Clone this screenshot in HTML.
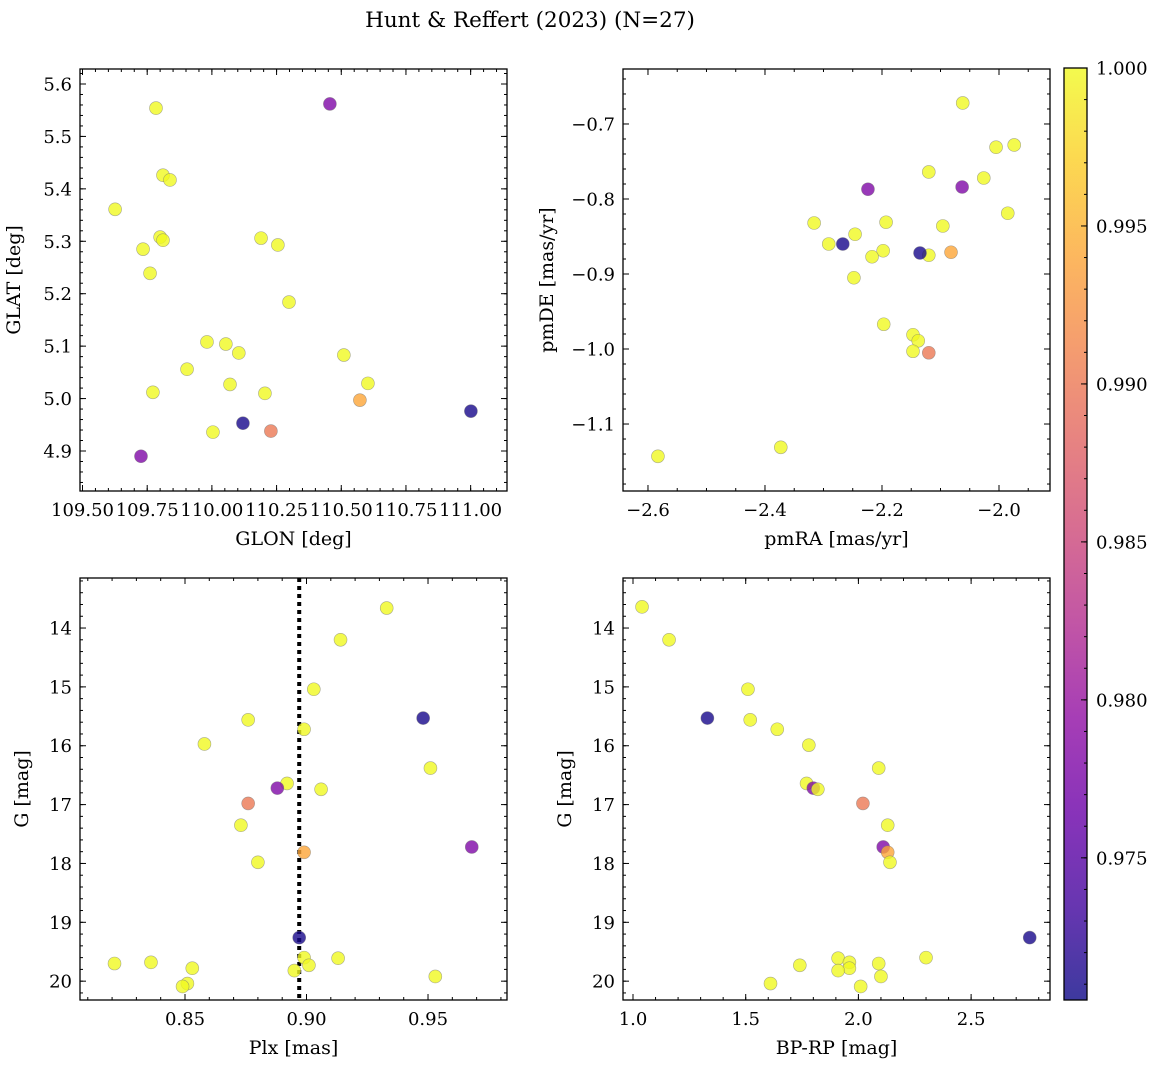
<!DOCTYPE html>
<html><head><meta charset="utf-8">
<style>
html,body{margin:0;padding:0;background:#fff;}
svg{display:block;font-family:"DejaVu Serif","Liberation Serif",serif;}
</style></head>
<body>
<svg id="fig" width="1161" height="1068" viewBox="0 0 1161 1068" xmlns="http://www.w3.org/2000/svg">
<text x="530" y="27" font-size="21.5" text-anchor="middle">Hunt &amp; Reffert (2023) (N=27)</text>
</svg>
<script>
// Panel 1: GLON vs GLAT
const p1X = [109.784,110.456,109.811,109.838,109.626,109.800,109.811,109.734,109.761,110.190,110.255,110.298,109.981,110.054,110.104,110.510,109.904,110.603,110.070,109.772,110.205,110.572,111.001,110.120,110.004,110.228,109.726];
const p1Y = [5.554,5.562,5.426,5.417,5.361,5.308,5.302,5.285,5.239,5.306,5.293,5.184,5.108,5.104,5.087,5.083,5.056,5.029,5.027,5.012,5.010,4.997,4.976,4.953,4.936,4.938,4.890];
const p1P = [1,0.978,1,1,1,1,1,1,1,1,1,1,1,1,1,1,1,1,1,1,1,0.994,0.971,0.971,1,0.990,0.978];
// Panel 2: pmRA vs pmDE
const p2X = [-2.062,-2.005,-1.974,-2.120,-2.026,-2.063,-2.224,-1.985,-2.316,-2.193,-2.096,-2.246,-2.291,-2.267,-2.198,-2.217,-2.120,-2.135,-2.082,-2.248,-2.197,-2.147,-2.138,-2.147,-2.120,-2.373,-2.583];
const p2Y = [-0.672,-0.731,-0.728,-0.764,-0.772,-0.784,-0.787,-0.819,-0.832,-0.831,-0.836,-0.847,-0.860,-0.860,-0.869,-0.877,-0.875,-0.872,-0.871,-0.905,-0.967,-0.981,-0.989,-1.003,-1.005,-1.131,-1.143];
const p2P = [1,1,1,1,1,0.978,0.978,1,1,1,1,1,1,0.971,1,1,1,0.971,0.994,1,1,1,1,1,0.990,1,1];
// Panel 3: Plx vs G
const p3X = [0.933,0.914,0.903,0.948,0.876,0.899,0.858,0.951,0.892,0.888,0.906,0.876,0.873,0.968,0.899,0.880,0.897,0.899,0.913,0.821,0.836,0.901,0.853,0.895,0.953,0.851,0.849];
const p3Y = [13.66,14.20,15.04,15.53,15.56,15.72,15.97,16.38,16.64,16.72,16.74,16.98,17.35,17.72,17.81,17.98,19.26,19.60,19.61,19.70,19.68,19.73,19.78,19.82,19.92,20.04,20.09];
const p3P = [1,1,1,0.971,1,1,1,1,1,0.978,1,0.990,1,0.978,0.994,1,0.971,1,1,1,1,1,1,1,1,1,1];
const plxMedian = 0.897;
// Panel 4: BP-RP vs G
const p4X = [1.04,1.16,1.51,1.33,1.52,1.64,1.78,2.09,1.77,1.80,1.82,2.02,2.13,2.11,2.13,2.14,2.76,2.30,1.91,1.96,2.09,1.74,1.96,1.91,2.10,1.61,2.01];
const p4Y = [13.64,14.20,15.04,15.53,15.56,15.72,15.99,16.38,16.64,16.72,16.74,16.98,17.35,17.72,17.81,17.98,19.26,19.60,19.61,19.68,19.70,19.73,19.78,19.82,19.92,20.04,20.09];
const p4P = [1,1,1,0.971,1,1,1,1,1,0.978,1,0.990,1,0.978,0.994,1,0.971,1,1,1,1,1,1,1,1,1,1];
// Colorbar
const cbTicks = [0.975,0.980,0.985,0.990,0.995,1.000];
const cbMin = 0.9705, cbMax = 1.0;

const NS = "http://www.w3.org/2000/svg";
const svg = document.getElementById('fig');
const TF = 18, LF = 19;
const stops = [[13,8,135],[65,4,157],[106,0,168],[143,13,164],[177,42,144],[204,71,120],[225,100,98],[242,132,75],[252,166,54],[252,206,37],[240,249,33]];
function plasma(t){t=Math.max(0,Math.min(1,t));const f=t*10,i=Math.min(9,Math.floor(f)),r=f-i;const a=stops[i],b=stops[i+1];
 return `rgb(${Math.round(a[0]+(b[0]-a[0])*r)},${Math.round(a[1]+(b[1]-a[1])*r)},${Math.round(a[2]+(b[2]-a[2])*r)})`;}
function mk(tag,attrs,parent){const e=document.createElementNS(NS,tag);for(const k in attrs)e.setAttribute(k,attrs[k]);(parent||svg).appendChild(e);return e;}

function panel(cfg){
 const {name,x0,y0,x1,y1,xmin,xmax,ymin,ymax,invY,xs,ys,ps,xt,xtl,xminor,yt,ytl,yminor,xlabel,ylabel} = cfg;
 const g=mk('g',{});
 
 
 const sx=v=>x0+(v-xmin)/(xmax-xmin)*(x1-x0);
 const sy=v=>invY? y0+(v-ymin)/(ymax-ymin)*(y1-y0) : y1-(v-ymin)/(ymax-ymin)*(y1-y0);
 const tg=mk('g',{stroke:'#000','stroke-width':1},g);
 xminor.forEach(v=>{const x=sx(v);if(x<x0||x>x1)return;mk('line',{x1:x,x2:x,y1:y1,y2:y1-3},tg);mk('line',{x1:x,x2:x,y1:y0,y2:y0+3},tg);});
 yminor.forEach(v=>{const y=sy(v);if(y<y0||y>y1)return;mk('line',{x1:x0,x2:x0+3,y1:y,y2:y},tg);mk('line',{x1:x1,x2:x1-3,y1:y,y2:y},tg);});
 xt.forEach((v,i)=>{const x=sx(v);mk('line',{x1:x,x2:x,y1:y1,y2:y1-6},tg);mk('line',{x1:x,x2:x,y1:y0,y2:y0+6},tg);
   const t=mk('text',{x:x,y:y1+25,'font-size':TF,'text-anchor':'middle',stroke:'none'},g);t.textContent=xtl[i];
   
   });
 yt.forEach((v,i)=>{const y=sy(v);mk('line',{x1:x0,x2:x0+6,y1:y,y2:y},tg);mk('line',{x1:x1,x2:x1-6,y1:y,y2:y},tg);
   const t=mk('text',{x:x0-8,y:y+6.5,'font-size':TF,'text-anchor':'end',stroke:'none'},g);t.textContent=ytl[i];
   
   });
 if(cfg.vline!==undefined){const x=sx(cfg.vline);const l=mk('line',{x1:x,x2:x,y1:y0,y2:y1,stroke:'#000','stroke-width':4,'stroke-dasharray':'4,4'},g);
   
   }
 xs.forEach((v,i)=>{const c=mk('circle',{cx:sx(v),cy:sy(ys[i]),r:6.5,fill:plasma((ps[i]-cbMin)/(cbMax-cbMin)),'fill-opacity':0.8,stroke:'#777','stroke-opacity':0.6,'stroke-width':0.6},g);
   
   });
 mk('rect',{x:x0,y:y0,width:x1-x0,height:y1-y0,fill:'none',stroke:'#000','stroke-width':1.3},g);
 const xl=mk('text',{x:(x0+x1)/2,y:y1+54,'font-size':LF,'text-anchor':'middle'},g);xl.textContent=xlabel;
 
 
 const yx=x0-cfg.ylo, yy=(y0+y1)/2;
 const yl=mk('text',{x:yx,y:yy,'font-size':LF,'text-anchor':'middle',transform:`rotate(-90 ${yx} ${yy})`},g);yl.textContent=ylabel;
 
 
}
function rng(a,b,s){const r=[];for(let v=a;v<=b+1e-9;v+=s)r.push(+v.toFixed(6));return r;}

panel({name:'glon-glat-panel',x0:80,y0:69,x1:507,y1:491,xmin:109.4903,xmax:111.1405,ymin:4.8237,ymax:5.6286,xs:p1X,ys:p1Y,ps:p1P,
 xt:[109.5,109.75,110,110.25,110.5,110.75,111],xtl:['109.50','109.75','110.00','110.25','110.50','110.75','111.00'],xminor:rng(109.45,111.15,0.05),
 yt:[4.9,5.0,5.1,5.2,5.3,5.4,5.5,5.6],ytl:['4.9','5.0','5.1','5.2','5.3','5.4','5.5','5.6'],yminor:rng(4.82,5.64,0.02),xlabel:'GLON [deg]',ylabel:'GLAT [deg]',ylo:60});
panel({name:'proper-motion-panel',x0:623,y0:69,x1:1050,y1:491,xmin:-2.6427,xmax:-1.9128,ymin:-1.1893,ymax:-0.6267,xs:p2X,ys:p2Y,ps:p2P,
 xt:[-2.6,-2.4,-2.2,-2.0],xtl:['\u22122.6','\u22122.4','\u22122.2','\u22122.0'],xminor:rng(-2.65,-1.9,0.05),
 yt:[-1.1,-1.0,-0.9,-0.8,-0.7],ytl:['\u22121.1','\u22121.0','\u22120.9','\u22120.8','\u22120.7'],yminor:rng(-1.2,-0.62,0.02),xlabel:'pmRA [mas/yr]',ylabel:'pmDE [mas/yr]',ylo:70});
panel({name:'parallax-magnitude-panel',x0:80,y0:578,x1:507,y1:1000,xmin:0.8068,xmax:0.9825,ymin:13.15,ymax:20.32,invY:true,xs:p3X,ys:p3Y,ps:p3P,vline:plxMedian,
 xt:[0.85,0.90,0.95],xtl:['0.85','0.90','0.95'],xminor:rng(0.81,0.98,0.01),
 yt:[14,15,16,17,18,19,20],ytl:['14','15','16','17','18','19','20'],yminor:rng(13.2,20.2,0.2),xlabel:'Plx [mas]',ylabel:'G [mag]',ylo:52});
panel({name:'cmd-panel',x0:623,y0:578,x1:1050,y1:1000,xmin:0.9556,xmax:2.85,ymin:13.15,ymax:20.32,invY:true,xs:p4X,ys:p4Y,ps:p4P,
 xt:[1.0,1.5,2.0,2.5],xtl:['1.0','1.5','2.0','2.5'],xminor:rng(1.0,2.8,0.1),
 yt:[14,15,16,17,18,19,20],ytl:['14','15','16','17','18','19','20'],yminor:rng(13.2,20.2,0.2),xlabel:'BP-RP [mag]',ylabel:'G [mag]',ylo:52});

(function(){
 const cx0=1064,cx1=1087,cy0=68,cy1=1000;
 const g=mk('g',{});
 
 
 const defs=mk('defs',{},g);
 const lg=mk('linearGradient',{id:'pl',x1:0,y1:1,x2:0,y2:0},defs);
 stops.forEach((s,i)=>mk('stop',{offset:i/10,'stop-color':`rgb(${s[0]},${s[1]},${s[2]})`,'stop-opacity':0.8},lg));
 mk('rect',{x:cx0,y:cy0,width:cx1-cx0,height:cy1-cy0,fill:'url(#pl)'},g);
 const sy=v=>cy1-(v-cbMin)/(cbMax-cbMin)*(cy1-cy0);
 for(let v=0.971;v<=1.00001;v+=0.001){const y=sy(v);mk('line',{x1:cx1,x2:cx1-3,y1:y,y2:y,stroke:'#000'},g);}
 cbTicks.forEach(v=>{const y=sy(v);mk('line',{x1:cx1,x2:cx1-6,y1:y,y2:y,stroke:'#000'},g);
  const t=mk('text',{x:cx1+9,y:y+6.5,'font-size':TF},g);t.textContent=v.toFixed(3);
  
  });
 mk('rect',{x:cx0,y:cy0,width:cx1-cx0,height:cy1-cy0,fill:'none',stroke:'#000','stroke-width':1.3},g);
})();
</script>
</body></html>
